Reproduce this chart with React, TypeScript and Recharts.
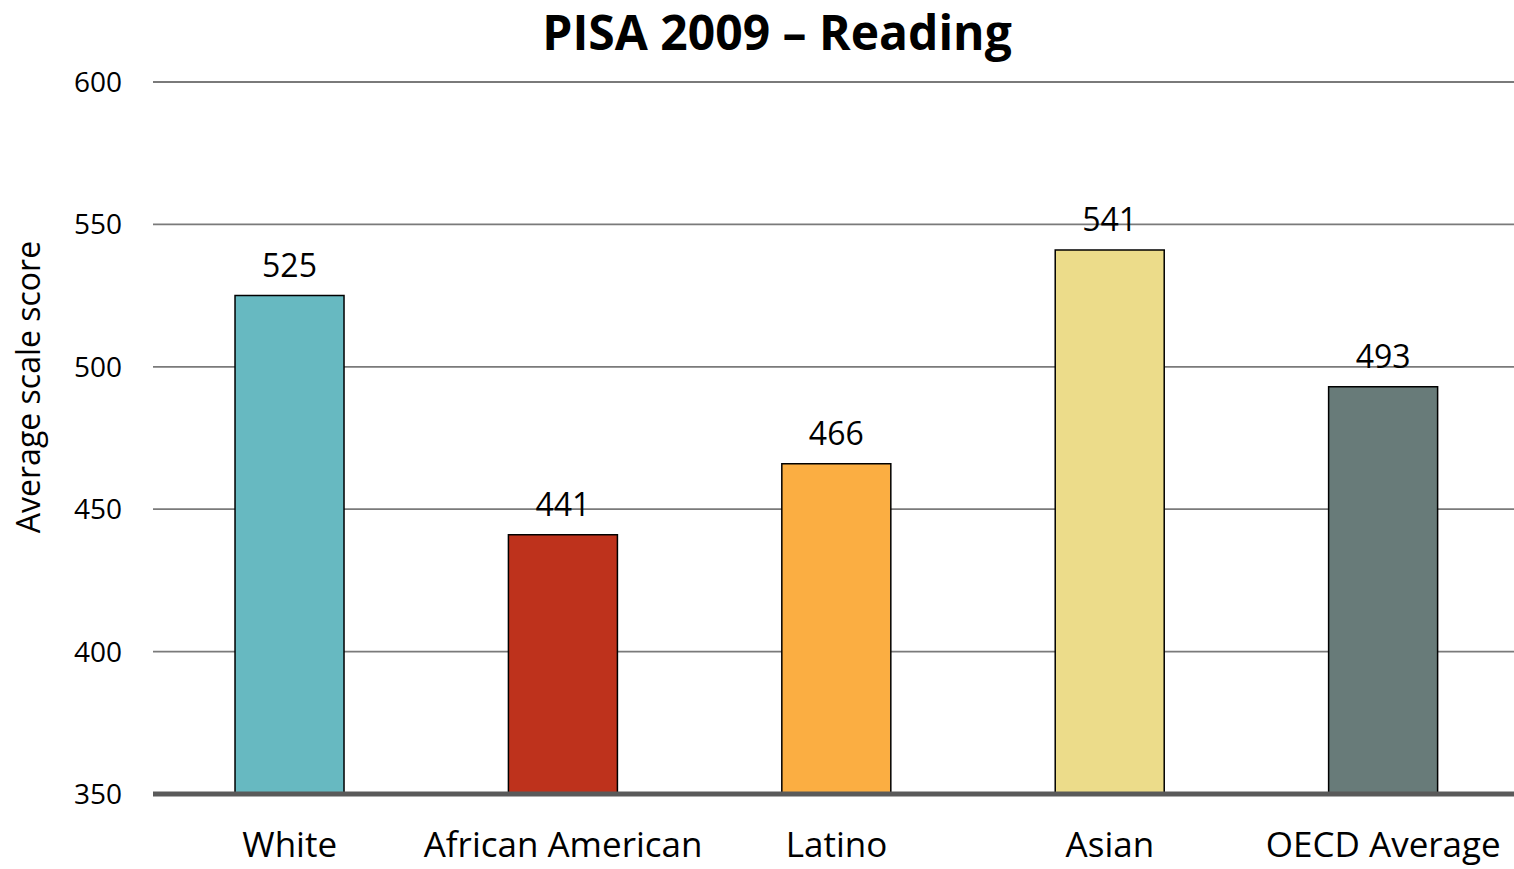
import { BarChart, Bar, XAxis, YAxis, CartesianGrid, Cell, LabelList, Label } from "recharts";

const groups = ["White", "African American", "Latino", "Asian", "OECD Average"];
const scores = [525, 441, 466, 541, 493];
const barColors = ["#67B9C1", "#BE321C", "#FBAE42", "#ECDC8A", "#687B79"];
const yTicks = [350, 400, 450, 500, 550, 600];

const FONT = "'Open Sans', sans-serif";

const data = groups.map((name, i) => ({ name, score: scores[i] }));

export default function App() {
  return (
    <div
      style={{
        position: "absolute",
        left: 0,
        top: 0,
        width: 1514,
        height: 869,
        overflow: "hidden",
        fontFamily: FONT,
        background: "#fff",
      }}
    >
      <div
        style={{
          position: "absolute",
          left: 0,
          width: 1554,
          top: 0,
          textAlign: "center",
          fontSize: 48,
          fontWeight: 700,
          color: "#000",
          lineHeight: "64px",
        }}
      >
        PISA 2009 – Reading
      </div>
      <BarChart
        width={1520}
        height={869}
        data={data}
        margin={{ top: 82, right: 0, bottom: 0, left: 0 }}
        barCategoryGap="30%"
      >
        <CartesianGrid vertical={false} stroke="#7a7a7a" strokeWidth={1.8} />
        <XAxis
          dataKey="name"
          height={75}
          tickLine={false}
          axisLine={{ stroke: "#5a5a5a", strokeWidth: 5 }}
          tick={{ fontSize: 35, fill: "#000", fontFamily: FONT, dy: 30 }}
          interval={0}
        />
        <YAxis
          width={153}
          domain={[350, 600]}
          ticks={yTicks}
          axisLine={false}
          tickLine={false}
          tickMargin={25}
          tick={{ fontSize: 28, fill: "#000", fontFamily: FONT }}
        >
          <Label
            content={({ viewBox }: any) => {
              const cx = viewBox.x + 27;
              const cy = viewBox.y + viewBox.height / 2 - 51;
              return (
                <text
                  x={cx}
                  y={cy}
                  transform={`rotate(-90, ${cx}, ${cy})`}
                  textAnchor="middle"
                  dominantBaseline="central"
                  fontSize={32}
                  fontFamily={FONT}
                  fill="#000"
                >
                  Average scale score
                </text>
              );
            }}
          />
        </YAxis>
        <Bar dataKey="score" stroke="#000" strokeWidth={1.5} isAnimationActive={false}>
          {data.map((_d, i) => (
            <Cell key={i} fill={barColors[i]} />
          ))}
          <LabelList
            dataKey="score"
            position="top"
            offset={19}
            style={{ fontSize: 32, fill: "#000", fontFamily: FONT }}
          />
        </Bar>
      </BarChart>
    </div>
  );
}
